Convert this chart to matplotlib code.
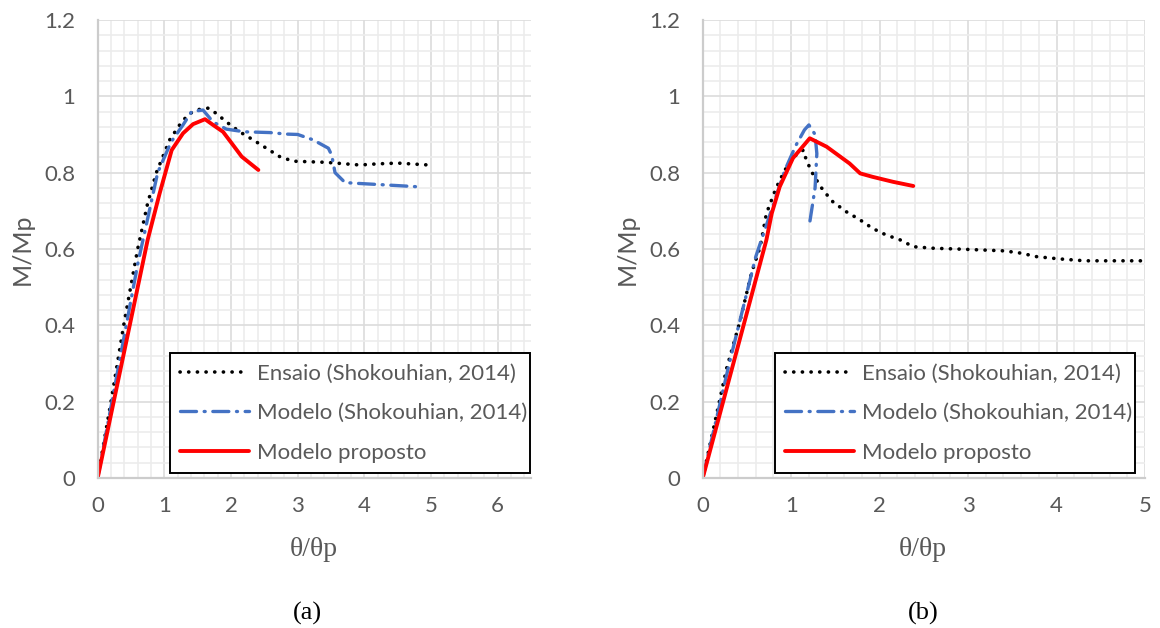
import matplotlib
matplotlib.use("Agg")
import matplotlib.pyplot as plt
from matplotlib.ticker import MultipleLocator
from matplotlib.lines import Line2D

# ---- Data panel (a) ----
ens_a_x = [0, 0.2, 0.4, 0.6, 0.75, 0.88, 1.08, 1.26, 1.38, 1.53, 1.66, 1.78, 1.93, 2.13, 2.33,
           2.53, 2.73, 2.93, 3.43, 3.93, 4.2, 4.5, 4.97]
ens_a_y = [0, 0.2, 0.41, 0.6, 0.72, 0.8, 0.886, 0.933, 0.955, 0.966, 0.969, 0.955, 0.933, 0.907,
           0.886, 0.864, 0.842, 0.83, 0.827, 0.82, 0.823, 0.825, 0.82]
mod_a_x = [0, 0.3, 0.6, 0.9, 1.1, 1.28, 1.41, 1.58, 1.73, 1.93, 2.2, 2.58, 2.83, 3.0, 3.23,
           3.46, 3.51, 3.56, 3.71, 3.88, 4.3, 4.8]
mod_a_y = [0, 0.28, 0.56, 0.8, 0.88, 0.925, 0.96, 0.964, 0.933, 0.914, 0.907, 0.905, 0.901,
           0.9, 0.886, 0.864, 0.846, 0.80, 0.774, 0.772, 0.768, 0.763]
prop_a_x = [0, 0.75, 0.93, 1.11, 1.28, 1.43, 1.61, 1.73, 1.88, 2.01, 2.16, 2.41]
prop_a_y = [0, 0.624, 0.746, 0.859, 0.903, 0.927, 0.940, 0.925, 0.907, 0.877, 0.842, 0.807]

# ---- Data panel (b) ----
ens_b_x = [0, 0.155, 0.27, 0.42, 0.55, 0.65, 0.72, 0.82, 0.87, 0.99, 1.1, 1.14, 1.17, 1.25,
           1.36, 1.47, 1.62, 1.78, 1.92, 2.07, 2.23, 2.38, 2.6, 2.86, 3.2, 3.41, 3.6, 3.77,
           4.03, 4.32, 4.96]
ens_b_y = [0, 0.165, 0.287, 0.41, 0.536, 0.606, 0.693, 0.754, 0.78, 0.833, 0.855, 0.859, 0.833,
           0.794, 0.754, 0.724, 0.698, 0.676, 0.654, 0.637, 0.624, 0.606, 0.602, 0.60, 0.597,
           0.595, 0.589, 0.58, 0.574, 0.569, 0.569]
mod_b_x = [0, 0.3, 0.6, 0.93, 1.05, 1.15, 1.2, 1.27, 1.29, 1.27, 1.21]
mod_b_y = [0, 0.3, 0.58, 0.807, 0.87, 0.912, 0.925, 0.9, 0.85, 0.76, 0.67]
prop_b_x = [0, 0.72, 0.78, 0.87, 1.02, 1.21, 1.4, 1.66, 1.78, 1.92, 2.15, 2.38]
prop_b_y = [0, 0.624, 0.693, 0.763, 0.838, 0.89, 0.868, 0.824, 0.798, 0.789, 0.776, 0.765]

labels = ["Ensaio (Shokouhian, 2014)", "Modelo (Shokouhian, 2014)", "Modelo proposto"]
y_ticks = [0, 0.2, 0.4, 0.6, 0.8, 1.0, 1.2]
y_ticklabels = ["0", "0.2", "0.4", "0.6", "0.8", "1", "1.2"]

GREY = "#595959"
SANS = ["Lato", "DejaVu Sans"]
SERIF = ["Liberation Serif", "DejaVu Serif"]
FS = 16

DOT = dict(color="black", lw=2.6, linestyle=(0, (0.05, 2.35)), dash_capstyle="round")
DASHDOT = dict(color="#4472C4", lw=2.4, linestyle=(0, (4.8, 2.3, 0.3, 2.3)), dash_capstyle="round")
SOLID = dict(color="#FF0000", lw=2.8, solid_joinstyle="round", solid_capstyle="round")

fig = plt.figure(figsize=(11.6, 6.28), dpi=100)

def setup(ax, xmax):
    ax.set_xlim(0, xmax)
    ax.set_ylim(0, 1.2)
    ax.xaxis.set_major_locator(MultipleLocator(1))
    ax.xaxis.set_minor_locator(MultipleLocator(0.2))
    ax.set_yticks(y_ticks)
    ax.set_yticklabels(y_ticklabels, family=SANS)
    ax.yaxis.set_minor_locator(MultipleLocator(0.04))
    ax.grid(which="major", color="#dcdcdc", lw=1.2)
    ax.grid(which="minor", color="#ececec", lw=1.2)
    ax.set_axisbelow(True)
    for s in ["top", "right"]:
        ax.spines[s].set_visible(False)
    for s in ["left", "bottom"]:
        ax.spines[s].set_color("#cccccc")
        ax.spines[s].set_linewidth(1.6)
    ax.tick_params(which="both", length=0, colors=GREY, labelsize=FS)
    ax.tick_params(axis="y", pad=16)
    ax.tick_params(axis="x", pad=13)
    for lab in ax.get_xticklabels() + ax.get_yticklabels():
        lab.set_family(SANS)

def draw(ax, ex, ey, mx, my, px, py):
    ax.plot(ex, ey, **DOT)
    ax.plot(mx, my, **DASHDOT)
    ax.plot(px, py, **SOLID)

axa = fig.add_axes([0.0842, 0.2389, 0.3736, 0.7293])
axb = fig.add_axes([0.6058, 0.2389, 0.3813, 0.7293])
setup(axa, 6.5)
setup(axb, 5)
draw(axa, ens_a_x, ens_a_y, mod_a_x, mod_a_y, prop_a_x, prop_a_y)
draw(axb, ens_b_x, ens_b_y, mod_b_x, mod_b_y, prop_b_x, prop_b_y)

handles = [Line2D([], [], **DOT), Line2D([], [], **DASHDOT), Line2D([], [], **SOLID)]

for ax, (x0, x1) in [(axa, (170, 530)), (axb, (775, 1135))]:
    bb = (x0 / 1160, (628 - 473) / 628, (x1 - x0) / 1160, (473 - 353) / 628)
    leg = ax.legend(handles, labels, bbox_to_anchor=bb, bbox_transform=fig.transFigure,
                    loc="center", mode="expand", frameon=True, fancybox=False,
                    edgecolor="black", framealpha=1, handlelength=3.1, handletextpad=0.35,
                    borderpad=0.45, borderaxespad=0, labelspacing=0.88,
                    prop={"family": SANS, "size": FS})
    leg.get_frame().set_linewidth(1.4)
    for t in leg.get_texts():
        t.set_color(GREY)

for xc in (22.5, 627.7):
    fig.text(xc / 1160, 1 - 249 / 628, "M/Mp", family=SANS, fontsize=18, color=GREY,
             rotation=90, ha="center", va="center")

for xc in (314, 923):
    fig.text(xc / 1160, 1 - 550 / 628, "θ/θp", family=SERIF, fontsize=20, color=GREY,
             ha="center", va="center")
fig.text(307.5 / 1160, 1 - 613 / 628, "(a)", family=SERIF, fontsize=19, color="black",
         ha="center", va="center")
fig.text(923 / 1160, 1 - 613 / 628, "(b)", family=SERIF, fontsize=19, color="black",
         ha="center", va="center")

fig.savefig("out.png", dpi=100)
